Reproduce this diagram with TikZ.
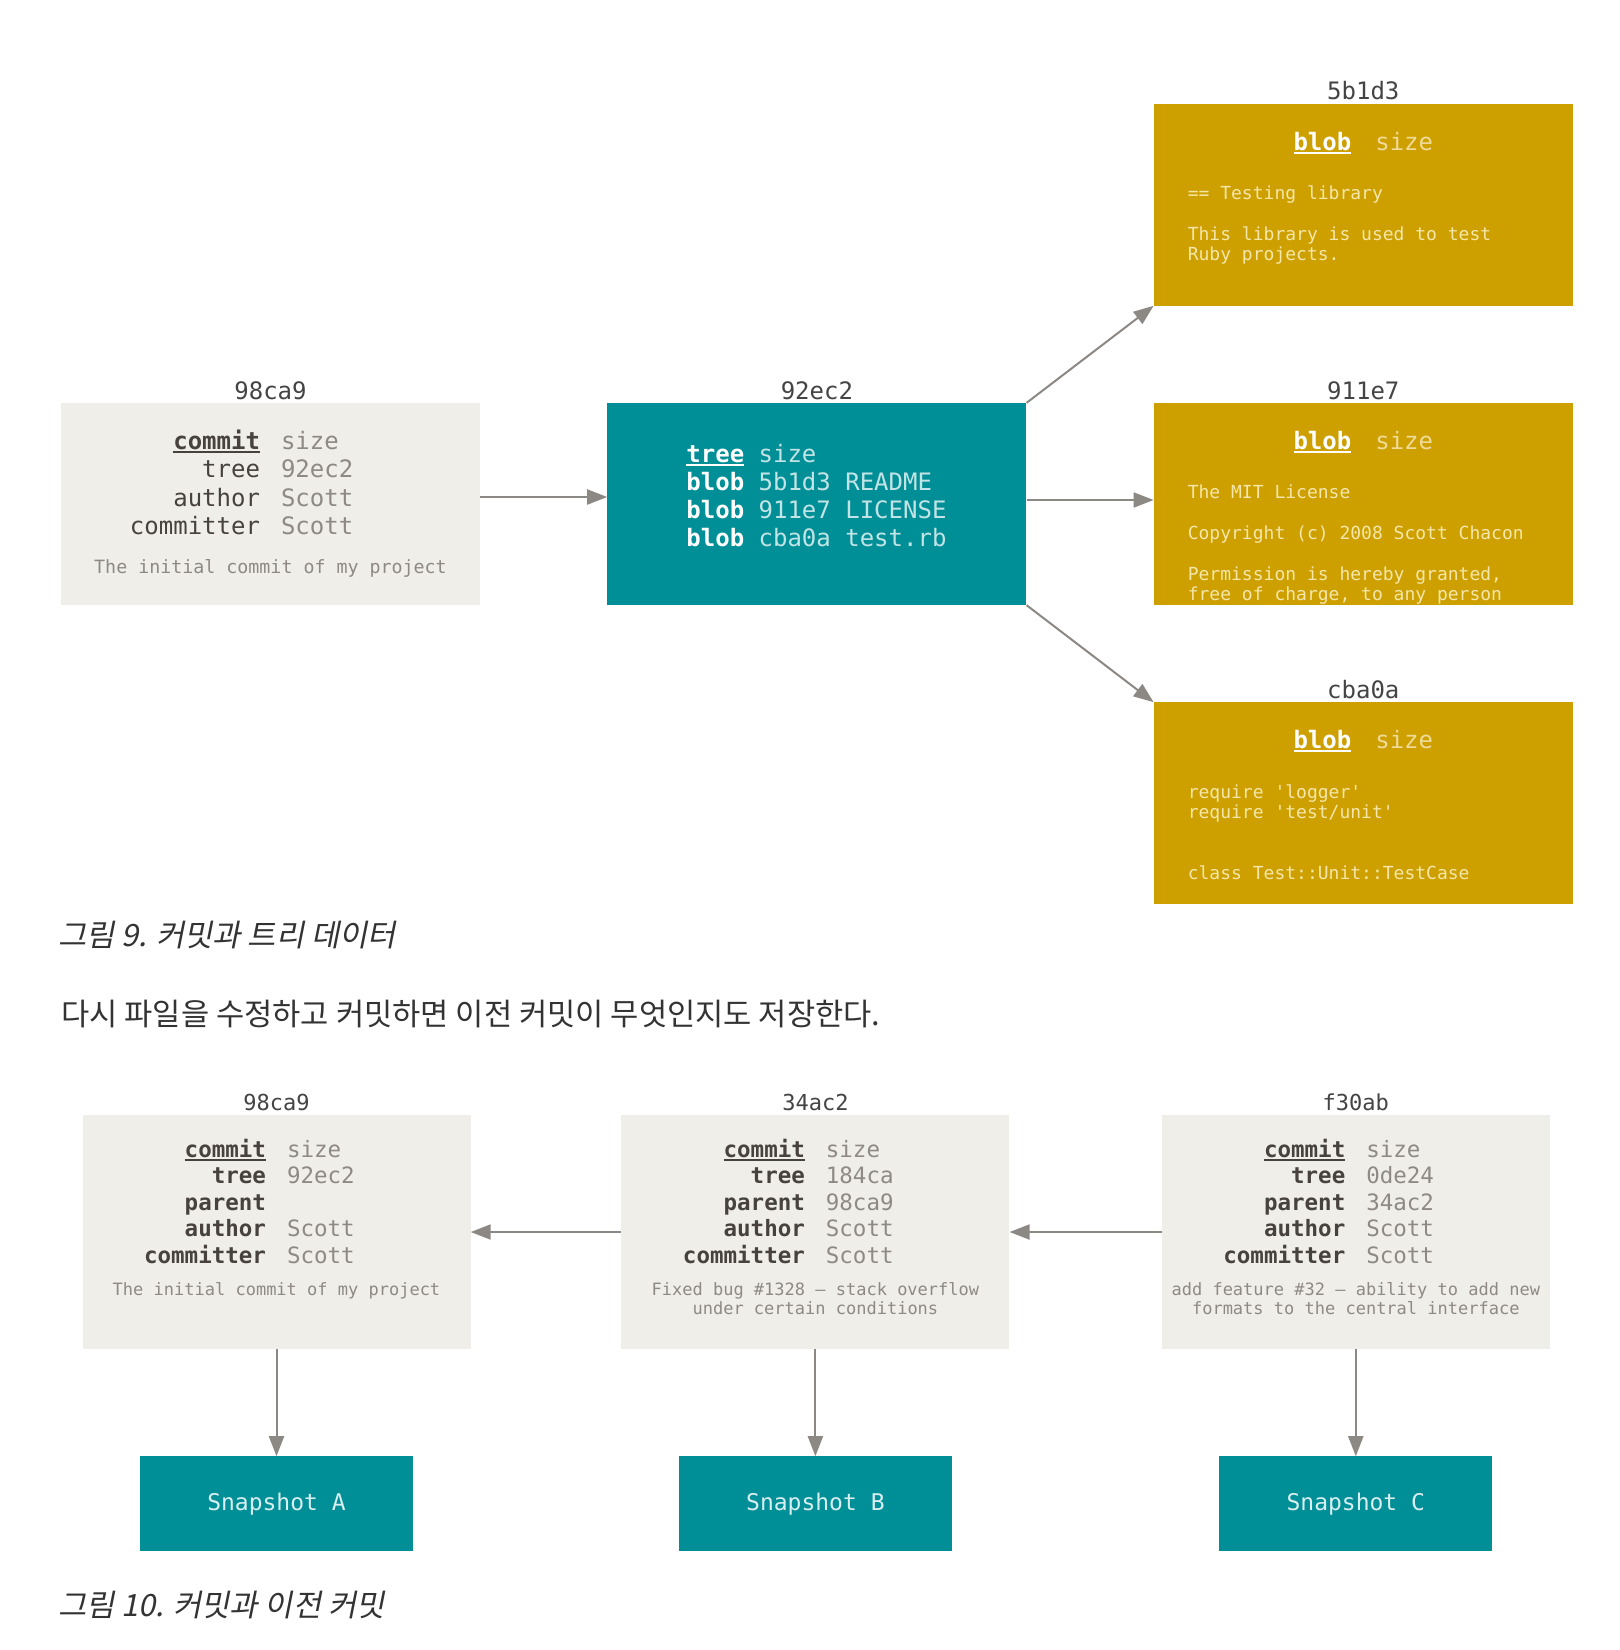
\documentclass[tikz,border=0pt]{standalone}
\usepackage{fontspec}
\setmonofont{DejaVu Sans Mono}
\newfontfamily\hangul{Noto Sans CJK KR}
\newfontfamily\hangulit[FakeSlant=0.2]{Noto Sans CJK KR}
\usetikzlibrary{positioning,% for the relative placement
                arrows.meta}

\definecolor{paper}{HTML}{EFEEE8}
\definecolor{treeteal}{HTML}{008F96}
\definecolor{blobgold}{HTML}{CDA000}
\definecolor{linkgray}{HTML}{8C8883}
\definecolor{keydark}{HTML}{47423D}
\definecolor{valgray}{HTML}{8E8983}
\definecolor{idgray}{HTML}{444444}
\definecolor{treeval}{HTML}{C2E4E6}
\definecolor{goldval}{HTML}{F0DA98}
\definecolor{goldtext}{HTML}{F5E6AA}
\definecolor{snaptext}{HTML}{D8EEF0}
\definecolor{hangulgray}{HTML}{333333}
\colorlet{keycol}{keydark}

% underlined key word
\newsavebox\ulbox
\newcommand\keyul[1]{\sbox\ulbox{#1}\rlap{\rule[-3.5pt]{\wd\ulbox}{2pt}}\usebox\ulbox}
% key | value, split at the node centre
\newcommand\field[3][21pt]{\makebox[0pt][r]{\textcolor{keycol}{#2}}\hspace{#1}\makebox[0pt][l]{#3}}

\begin{document}
\begin{tikzpicture}[x=1pt,y=-1pt,
  commitbox/.style={
    rectangle,
    fill=paper,
    minimum width=419pt,
    minimum height=202pt,
    inner sep=0pt
  },
  treebox/.style={commitbox, fill=treeteal},
  blobbox/.style={commitbox, fill=blobgold},
  parentbox/.style={commitbox, minimum width=388pt, minimum height=234pt},
  snapbox/.style={
    rectangle, fill=treeteal,
    minimum width=273pt, minimum height=95pt, inner sep=0pt,
    text=snaptext, font=\ttfamily\fontsize{23}{27}\selectfont
  },
  idlabel/.style={font=\ttfamily\fontsize{24}{28}\selectfont, text=idgray, inner sep=0pt},
  smallid/.style={idlabel, font=\ttfamily\fontsize{22}{26}\selectfont},
  kvtext/.style={font=\ttfamily\fontsize{24}{28.3}\selectfont, align=center, inner sep=0pt, text=valgray},
  pkvtext/.style={kvtext, font=\ttfamily\fontsize{22.5}{26.5}\selectfont},
  blobkv/.style={kvtext, font=\ttfamily\fontsize{24}{28}\selectfont, text=goldval,
    execute at begin node={\colorlet{keycol}{white}}},
  msgtext/.style={font=\ttfamily\fontsize{18.3}{21}\selectfont, align=center, inner sep=0pt, text=valgray},
  pmsgtext/.style={msgtext, font=\ttfamily\fontsize{17}{19}\selectfont},
  treetext/.style={font=\ttfamily\fontsize{24}{28}\selectfont, align=left, inner sep=0pt, text=white},
  blobtext/.style={font=\ttfamily\fontsize{18}{20.4}\selectfont, align=left, inner sep=0pt, text=goldtext},
  caption/.style={font=\hangulit\fontsize{30.7}{36}\selectfont, text=hangulgray, inner sep=0pt, anchor=west},
  bodytext/.style={font=\hangul\fontsize{30.7}{36}\selectfont, text=hangulgray, inner sep=0pt, anchor=west},
  link/.style={draw=linkgray, line width=2pt, -{Triangle[length=20pt,width=15pt]}}
]
\fill[white] (0,0) rectangle (1620,1650);
\useasboundingbox (0,0) rectangle (1620,1650);

% commit, tree and blobs
\node (c98)  [commitbox] at (270.5,504) {};
\node (tree) [treebox, right=127pt of c98] {};
\node (b911) [blobbox, right=127pt of tree] {};
\node (b5b)  [blobbox, above=97pt of b911] {};
\node (bcba) [blobbox, below=97pt of b911] {};

\node (c98id)  [idlabel, above=3pt of c98.north]  {98ca9};
\node (treeid) [idlabel, above=3pt of tree.north] {92ec2};
\node (b5bid)  [idlabel, above=3pt of b5b.north]  {5b1d3};
\node (b911id) [idlabel, above=3pt of b911.north] {911e7};
\node (bcbaid) [idlabel, above=3pt of bcba.north] {cba0a};

\node (c98kv) [kvtext, below=26.7pt of c98.north] {%
  \strut\field{\keyul{\bfseries commit}}{size}\\
  \field{tree}{92ec2}\\
  \field{author}{Scott}\\
  \field{committer}{Scott}};
\node (c98msg) [msgtext, below=156pt of c98.north] {\strut The initial commit of my project};

\node (treetxt) [treetext, below right=40pt and 79pt of tree.north west] {%
  \strut\keyul{\bfseries tree} \textcolor{treeval}{size}\\
  \textbf{blob} \textcolor{treeval}{5b1d3 README}\\
  \textbf{blob} \textcolor{treeval}{911e7 LICENSE}\\
  \textbf{blob} \textcolor{treeval}{cba0a test.rb}};

\node (b5bkv)  [blobkv, below=26.9pt of b5b.north]  {\strut\field[24pt]{\keyul{\bfseries blob}}{size}};
\node (b911kv) [blobkv, below=26.9pt of b911.north] {\strut\field[24pt]{\keyul{\bfseries blob}}{size}};
\node (bcbakv) [blobkv, below=26.9pt of bcba.north] {\strut\field[24pt]{\keyul{\bfseries blob}}{size}};

\node (b5btxt) [blobtext, below right=81.6pt and 34pt of b5b.north west] {%
  \strut== Testing library\\[20.4pt]
  This library is used to test\\
  Ruby projects.};
\begin{scope}
  \clip (b911.north west) rectangle (b911.south east);
  \node (b911txt) [blobtext, below right=81.6pt and 34pt of b911.north west] {%
    \strut The MIT License\\[20.4pt]
    Copyright (c) 2008 Scott Chacon\\[20.4pt]
    Permission is hereby granted,\\
    free of charge, to any person};
\end{scope}
\node (bcbatxt) [blobtext, below right=81.6pt and 34pt of bcba.north west] {%
  \strut require 'logger'\\
  require 'test/unit'\\[40.8pt]
  class Test::Unit::TestCase};

\draw[link] ([yshift=7pt]c98.east) -- ([yshift=7pt]tree.west);
\draw[link] ([yshift=4pt]tree.east) -- ([yshift=4pt]b911.west);
\draw[link] (tree.north east) -- (b5b.south west);
\draw[link] (tree.south east) -- (bcba.north west);

\node (fig9) [caption] at (58,935) {그림 9. 커밋과 트리 데이터};
\node (para) [bodytext] at (61,1014) {다시 파일을 수정하고 커밋하면 이전 커밋이 무엇인지도 저장한다.};

% commits with parents
\node (p98) [parentbox] at (276.5,1232) {};
\node (p34) [parentbox, right=150.5pt of p98] {};
\node (pf3) [parentbox, right=152pt of p34] {};

\node (p98id) [smallid, above=4pt of p98.north] {98ca9};
\node (p34id) [smallid, above=4pt of p34.north] {34ac2};
\node (pf3id) [smallid, above=4pt of pf3.north] {f30ab};

\node (p98kv) [pkvtext, below=23.6pt of p98.north] {%
  \strut\field{\keyul{\bfseries commit}}{size}\\
  \field{\bfseries tree}{92ec2}\\
  \field{\bfseries parent}{}\\
  \field{\bfseries author}{Scott}\\
  \field{\bfseries committer}{Scott}};
\node (p34kv) [pkvtext, below=23.6pt of p34.north] {%
  \strut\field{\keyul{\bfseries commit}}{size}\\
  \field{\bfseries tree}{184ca}\\
  \field{\bfseries parent}{98ca9}\\
  \field{\bfseries author}{Scott}\\
  \field{\bfseries committer}{Scott}};
\node (pf3kv) [pkvtext, below=23.6pt of pf3.north] {%
  \strut\field{\keyul{\bfseries commit}}{size}\\
  \field{\bfseries tree}{0de24}\\
  \field{\bfseries parent}{34ac2}\\
  \field{\bfseries author}{Scott}\\
  \field{\bfseries committer}{Scott}};

\node (p98msg) [pmsgtext, below=167.3pt of p98.north] {\strut The initial commit of my project};
\node (p34msg) [pmsgtext, below=167.3pt of p34.north] {\strut Fixed bug \#1328 – stack overflow\\under certain conditions};
\node (pf3msg) [pmsgtext, below=167.3pt of pf3.north] {\strut add feature \#32 – ability to add new\\formats to the central interface};

\node (snapA) [snapbox, below=107pt of p98] {Snapshot A};
\node (snapB) [snapbox, below=107pt of p34] {Snapshot B};
\node (snapC) [snapbox, below=107pt of pf3] {Snapshot C};

\draw[link] (p34.west) -- (p98.east);
\draw[link] (pf3.west) -- (p34.east);
\draw[link] (p98.south) -- (snapA.north);
\draw[link] (p34.south) -- (snapB.north);
\draw[link] (pf3.south) -- (snapC.north);

\node (fig10) [caption] at (58,1605) {그림 10. 커밋과 이전 커밋};
\end{tikzpicture}
\end{document}
